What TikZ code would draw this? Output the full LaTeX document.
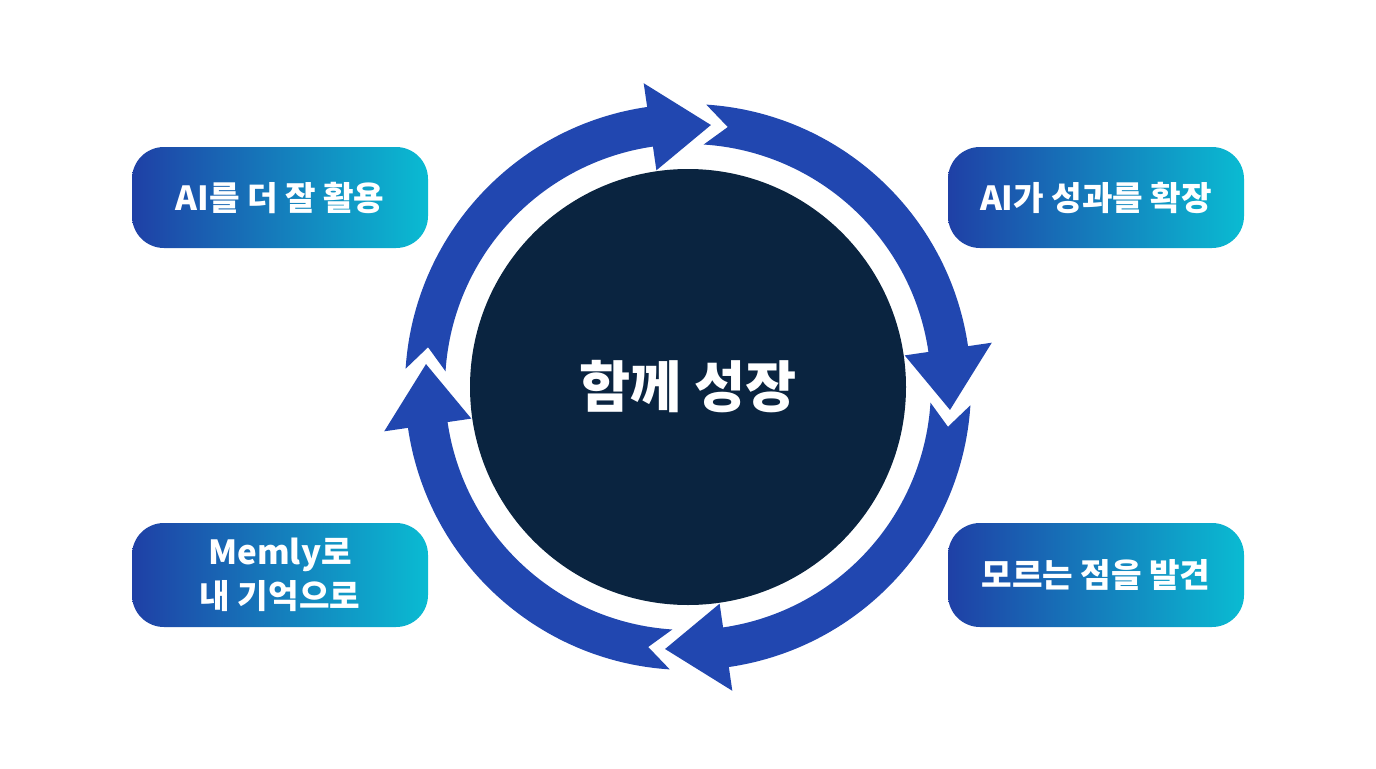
\documentclass[tikz,border=0pt]{standalone}
\usepackage{fontspec}
\newfontfamily\kr{Noto Sans CJK KR}
\definecolor{ringblue}{HTML}{2147B0}
\definecolor{navy}{HTML}{0A2440}
\definecolor{boxL}{HTML}{1F40A6}
\definecolor{boxR}{HTML}{0ABBD2}
\begin{document}
\begin{tikzpicture}[x=0.5pt,y=0.5pt,
  labelbox/.style={rounded corners=16pt, minimum width=148pt, minimum height=50.5pt,
    left color=boxL, right color=boxR, text=white,
    font=\kr\bfseries\fontsize{16.6}{22}\selectfont, align=center, inner sep=0pt},
  ringseg/.style={fill=ringblue}]
\useasboundingbox[fill=white] (0,0) rectangle (1376,768);
\coordinate (C) at (688,381);
\node[circle, fill=navy, minimum size=218pt, inner sep=0pt, text=white,
  font=\kr\bfseries\fontsize{27.8}{32}\selectfont] (core) at (C) {함께 성장};
\begin{scope}[shift={(C)}]
\foreach \tp in {85,-5,-95,-185} {
  \pgfmathsetmacro\hb{\tp+13.3}
  \pgfmathsetmacro\tc{\tp+91.3}
  \pgfmathsetmacro\nt{\tp+86.3}
  \fill[ringseg] (\tc:283) arc[start angle=\tc, end angle=\hb, radius=283]
    -- (\hb:307) -- (\tp:263) -- (\hb:219) -- (\hb:243)
    arc[start angle=\hb, end angle=\tc, radius=243] -- (\nt:263) -- cycle;
}
\end{scope}
\node[labelbox] (b1) at (280,570.5) {AI를 더 잘 활용};
\node[labelbox] (b2) at (1096,570.5) {AI가 성과를 확장};
\node[labelbox, minimum height=52pt] (b3) at (280,193) {Memly로\\내 기억으로};
\node[labelbox, minimum height=52pt] (b4) at (1096,193) {모르는 점을 발견};
\end{tikzpicture}
\end{document}
